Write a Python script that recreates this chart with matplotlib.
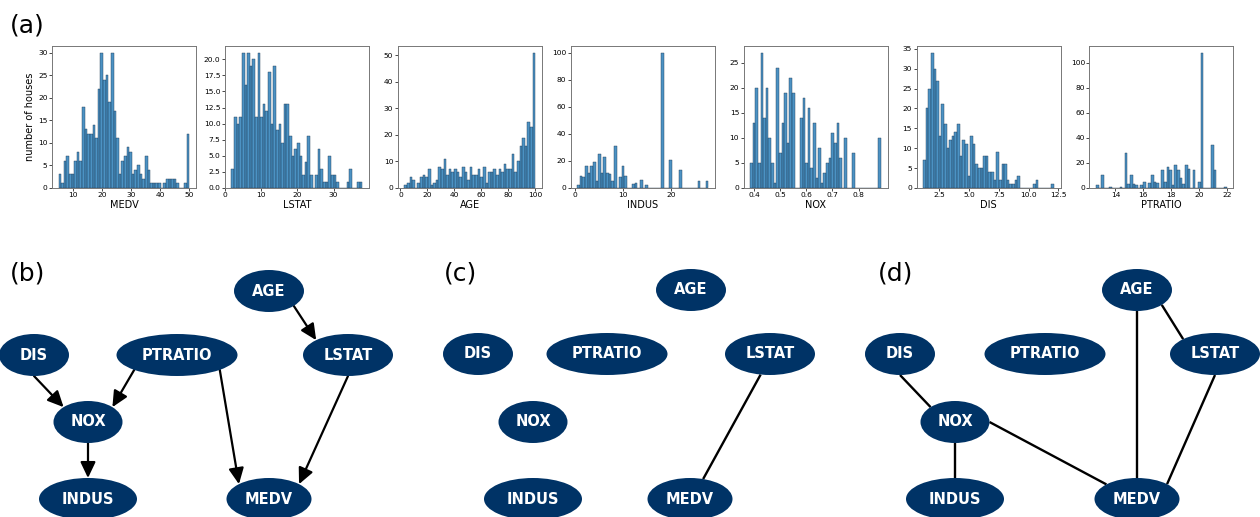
import numpy as np
import matplotlib
matplotlib.use('Agg')
import matplotlib.pyplot as plt
from matplotlib.patches import Ellipse
from matplotlib.ticker import MultipleLocator

# ---- histogram data (50 bins per variable) ----
hist_vars = ['MEDV', 'LSTAT', 'AGE', 'INDUS', 'NOX', 'DIS', 'PTRATIO']
hist_ranges = [(5.0, 50.0), (1.73, 37.97), (2.9, 100.0), (0.46, 27.74),
               (0.385, 0.886), (1.13, 12.13), (12.6, 22.0)]

medv_counts = [3, 1, 6, 7, 3, 3, 6, 8, 6, 18, 13, 12, 12, 14, 11, 22, 30, 24, 25, 19,
               30, 17, 11, 3, 6, 7, 9, 8, 3, 4, 5, 3, 2, 7, 4, 1, 1, 1, 1, 0,
               1, 2, 2, 2, 2, 1, 0, 0, 1, 12]
lstat_counts = [3, 11, 10, 11, 21, 16, 21, 19, 20, 11, 21, 11, 13, 12, 18, 10, 19, 9, 10, 7,
                13, 13, 8, 5, 6, 7, 5, 2, 4, 8, 2, 0, 2, 6, 3, 1, 1, 5, 2, 2,
                1, 0, 0, 0, 1, 3, 0, 0, 1, 1]
age_counts = [1, 2, 4, 3, 0, 2, 4, 5, 4, 7, 1, 2, 3, 8, 7, 11, 5, 7, 6, 7,
              6, 4, 8, 6, 3, 8, 5, 5, 7, 4, 8, 2, 6, 6, 7, 5, 7, 6, 9, 7,
              7, 13, 6, 10, 16, 19, 16, 25, 23, 51]
indus_counts = [2, 9, 8, 16, 11, 16, 19, 5, 25, 11, 23, 11, 10, 5, 31, 0, 8, 16, 9, 0,
                0, 3, 4, 0, 6, 0, 2, 0, 0, 0, 0, 0, 100, 0, 0, 21, 0, 0, 0, 13,
                0, 0, 0, 0, 0, 0, 5, 0, 0, 5]
nox_counts = [5, 13, 20, 5, 27, 14, 20, 10, 5, 1, 24, 7, 13, 19, 9, 22, 19, 0, 0, 14,
              18, 5, 16, 4, 13, 2, 8, 1, 3, 5, 6, 11, 9, 13, 6, 0, 10, 0, 0, 7,
              0, 0, 0, 0, 0, 0, 0, 0, 0, 10]
dis_counts = [7, 20, 25, 34, 30, 27, 13, 21, 16, 10, 12, 13, 14, 16, 8, 12, 11, 3, 13, 11,
              6, 5, 5, 8, 8, 4, 4, 2, 9, 2, 6, 6, 2, 1, 1, 2, 3, 0, 0, 0,
              0, 0, 1, 2, 0, 0, 0, 0, 0, 1]
ptratio_counts = [2, 0, 10, 0, 0, 1, 0, 0, 0, 1, 0, 28, 3, 10, 3, 2, 0, 2, 5, 0,
                  4, 10, 5, 4, 0, 14, 5, 17, 14, 2, 18, 14, 8, 3, 18, 15, 0, 14, 0, 5,
                  108, 0, 0, 0, 34, 14, 0, 0, 0, 1]
hist_counts = [medv_counts, lstat_counts, age_counts, indus_counts,
               nox_counts, dis_counts, ptratio_counts]

# ---- graph data ----
node_names = ['AGE', 'DIS', 'PTRATIO', 'LSTAT', 'NOX', 'INDUS', 'MEDV']
edges_b = [('DIS', 'NOX'), ('PTRATIO', 'NOX'), ('NOX', 'INDUS'),
           ('PTRATIO', 'MEDV'), ('AGE', 'LSTAT'), ('LSTAT', 'MEDV')]
edges_c = [('LSTAT', 'MEDV')]
edges_d = [('AGE', 'MEDV'), ('AGE', 'LSTAT'), ('DIS', 'NOX'),
           ('NOX', 'INDUS'), ('NOX', 'MEDV'), ('LSTAT', 'MEDV')]

# ---- layout / style ----
W, H = 1260, 517
x_steps = [10, 10, 20, 10, 0.1, 2.5, 2]
y_steps = [5, 2.5, 10, 20, 5, 5, 20]
node_w = {'AGE': 70, 'DIS': 70, 'PTRATIO': 121, 'LSTAT': 90, 'NOX': 69, 'INDUS': 98, 'MEDV': 85}
node_h = 42
pos_b = {'AGE': (269, 291), 'DIS': (34, 355), 'PTRATIO': (177, 355), 'LSTAT': (348, 355),
         'NOX': (88, 422), 'INDUS': (88, 499), 'MEDV': (269, 499)}
pos_c = {'AGE': (691, 290), 'DIS': (478, 354), 'PTRATIO': (607, 354), 'LSTAT': (770, 354),
         'NOX': (533, 422), 'INDUS': (533, 499), 'MEDV': (690, 499)}
pos_d = {'AGE': (1137, 290), 'DIS': (900, 354), 'PTRATIO': (1045, 354), 'LSTAT': (1215, 354),
         'NOX': (955, 422), 'INDUS': (955, 499), 'MEDV': (1137, 499)}
# attachment angles on the ellipses (deg, y pointing down)
ports_b = [(90, -135), (135, -45), (90, -90), (45, -135), (45, -135), (90, -45)]
ports_c = [(102, -72)]
ports_d = [(90, -90), (45, -135), (90, -135), (90, -90), (0, -136), (90, -45)]

node_color = '#003366'
bar_face = (31/255, 119/255, 180/255, 0.8)

fig = plt.figure(figsize=(W/100, H/100), dpi=100)

# overlay axes for graphs and panel labels
ov = fig.add_axes([0, 0, 1, 1])
ov.set_xlim(0, W)
ov.set_ylim(H, 0)
ov.axis('off')
ov.patch.set_alpha(0)

# ---- histograms ----
ax_bottom = 188
ax_top = 46
for i, (name, (lo, hi), counts) in enumerate(zip(hist_vars, hist_ranges, hist_counts)):
    left = 52 + i * 172.9
    ax = fig.add_axes([left / W, 1 - ax_bottom / H, 144 / W, (ax_bottom - ax_top) / H])
    edges = np.linspace(lo, hi, len(counts) + 1)
    ax.bar(edges[:-1], counts, width=np.diff(edges), align='edge',
           facecolor=bar_face, edgecolor='#203a55', linewidth=0.3)
    ax.xaxis.set_major_locator(MultipleLocator(x_steps[i]))
    ax.yaxis.set_major_locator(MultipleLocator(y_steps[i]))
    ax.set_xlim(lo - 0.05 * (hi - lo), hi + 0.05 * (hi - lo))
    ax.set_ylim(0, max(counts) * 1.05)
    if name == 'NOX':
        ax.set_xticks([0.4, 0.5, 0.6, 0.7, 0.8])
    if name == 'LSTAT':
        ax.yaxis.set_major_formatter(matplotlib.ticker.FormatStrFormatter('%.1f'))
    if name == 'DIS':
        ax.xaxis.set_major_formatter(matplotlib.ticker.FormatStrFormatter('%.1f'))
    ax.set_xlabel(name, fontsize=7, labelpad=1)
    ax.tick_params(labelsize=5.4, length=2.2, width=0.5, pad=1)
    for sp in ax.spines.values():
        sp.set_color('#777777')
        sp.set_linewidth(0.7)
    if i == 0:
        ax.set_ylabel('number of houses', fontsize=7, labelpad=2)

# ---- graphs ----
def pt(p, name, ang):
    cx, cy = p[name]
    a = node_w[name] / 2
    b = node_h / 2
    t = np.deg2rad(ang)
    return cx + a * np.cos(t), cy + b * np.sin(t)

def draw_graph(p, edges, ports, directed):
    for (s, e), (a1, a2) in zip(edges, ports):
        x1, y1 = pt(p, s, a1)
        x2, y2 = pt(p, e, a2)
        if directed:
            ov.annotate('', xy=(x2, y2), xytext=(x1, y1),
                        arrowprops=dict(arrowstyle='-|>,head_length=0.8,head_width=0.38',
                                        mutation_scale=12, lw=1.6, color='black',
                                        shrinkA=0, shrinkB=0))
        else:
            ov.plot([x1, x2], [y1, y2], color='black', lw=1.7, solid_capstyle='butt')
    for n in node_names:
        cx, cy = p[n]
        ov.add_patch(Ellipse((cx, cy), node_w[n], node_h, facecolor=node_color,
                             edgecolor='none', zorder=3))
        ov.text(cx, cy, n, color='white', fontsize=10.5, fontweight='bold',
                ha='center', va='center', zorder=4)

draw_graph(pos_b, edges_b, ports_b, True)
draw_graph(pos_c, edges_c, ports_c, False)
draw_graph(pos_d, edges_d, ports_d, False)

# panel labels
for lab, x, y in [('(a)', 10, 32), ('(b)', 10, 280), ('(c)', 444, 280), ('(d)', 878, 280)]:
    ov.text(x, y, lab, fontsize=18, ha='left', va='baseline')

fig.savefig('out.png', dpi=100)
